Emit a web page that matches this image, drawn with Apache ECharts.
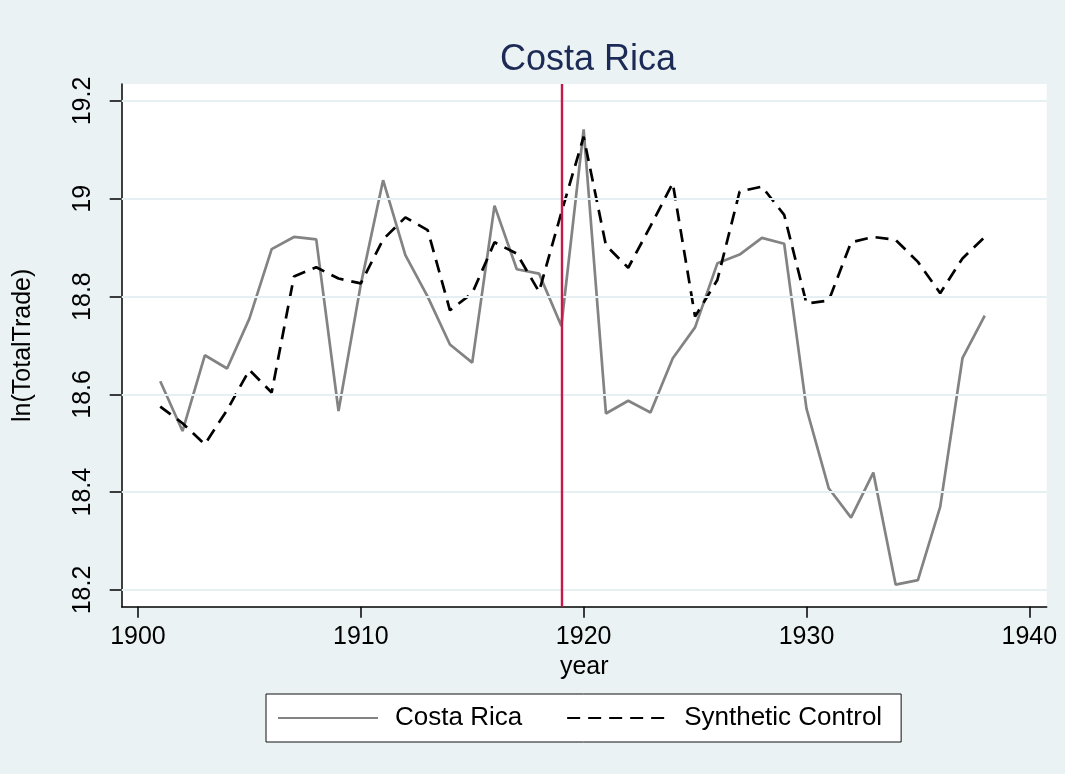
<!DOCTYPE html>
<html>
<head>
<meta charset="utf-8">
<script src="https://cdn.jsdelivr.net/npm/echarts@6/dist/echarts.min.js"></script>
<style>
html,body{margin:0;padding:0;background:#EAF2F3;}
#chart{width:1065px;height:774px;}
</style>
</head>
<body>
<div id="chart"></div>
<script>
const years = [1901,1902,1903,1904,1905,1906,1907,1908,1909,1910,1911,1912,1913,1914,1915,1916,1917,1918,1919,
  1920,1921,1922,1923,1924,1925,1926,1927,1928,1929,1930,1931,1932,1933,1934,1935,1936,1937,1938];
const costaRica = [18.627,18.525,18.680,18.653,18.755,18.897,18.922,18.917,18.566,18.825,19.038,18.885,18.800,18.702,18.665,18.986,18.856,18.847,18.740,
  19.142,18.561,18.587,18.563,18.674,18.737,18.868,18.886,18.920,18.908,18.571,18.408,18.348,18.440,18.211,18.220,18.370,18.674,18.761];
const synthetic = [18.575,18.541,18.498,18.568,18.650,18.604,18.841,18.860,18.837,18.827,18.917,18.962,18.936,18.772,18.807,18.911,18.888,18.810,18.972,
  19.127,18.905,18.859,18.944,19.032,18.759,18.834,19.015,19.025,18.967,18.786,18.792,18.911,18.922,18.916,18.871,18.807,18.878,18.922];
const xTicks = [1900,1910,1920,1930,1940];
const yTicks = [18.2,18.4,18.6,18.8,19.0,19.2];
const treatmentYear = 1919;

const chart = echarts.init(document.getElementById('chart'), null, {renderer:'canvas'});
const font = 'Liberation Sans, Arial, Helvetica, sans-serif';
const option = {
  backgroundColor: '#EAF2F3',
  animation: false,
  title: {
    text: 'Costa Rica',
    left: 583, top: 37, textAlign: 'center',
    textStyle: {fontFamily: font, fontSize: 36, fontWeight: 'normal', color: '#1C2A56'}
  },
  grid: {
    left: 121.7, right: 18.3, top: 84, bottom: 167.3,
    show: true, backgroundColor: '#ffffff', borderWidth: 0,
    outerBoundsMode: 'none'
  },
  legend: {
    left: 266, top: 694,
    orient: 'horizontal',
    backgroundColor: '#ffffff',
    borderColor: '#111111', borderWidth: 1, borderRadius: 0,
    padding: [11, 19, 11, 11],
    itemWidth: 100, itemHeight: 14, itemGap: 44,
    itemStyle: {opacity: 0},
    textStyle: {fontFamily: font, fontSize: 26, color: '#000', padding: [0,0,0,12]},
    data: ['Costa Rica', 'Synthetic Control']
  },
  xAxis: {
    type: 'value',
    min: 1899.27, max: 1940.78,
    name: 'year', nameLocation: 'middle', nameGap: 48,
    nameTextStyle: {fontFamily: font, fontSize: 25, color: '#000'},
    axisLine: {show: true, onZero: false, lineStyle: {color: '#000', width: 1.5}},
    axisTick: {show: true, length: 11, customValues: xTicks, lineStyle: {color: '#000', width: 1.5}},
    axisLabel: {customValues: xTicks, fontFamily: font, fontSize: 25, color: '#000', margin: 18,
      formatter: v => String(v)},
    splitLine: {show: false}
  },
  yAxis: {
    type: 'value',
    min: 18.1658, max: 19.2348,
    name: 'ln(TotalTrade)', nameLocation: 'middle', nameGap: 86, nameRotate: 90,
    nameTextStyle: {fontFamily: font, fontSize: 25, color: '#000'},
    axisLine: {show: true, onZero: false, lineStyle: {color: '#000', width: 1.5}},
    axisTick: {show: true, length: 12, customValues: yTicks, lineStyle: {color: '#000', width: 1.5}},
    axisLabel: {customValues: yTicks, rotate: 90, fontFamily: font, fontSize: 25, color: '#000', margin: 26,
      formatter: v => String(parseFloat(v.toFixed(1)))},
    splitLine: {show: false}
  },
  series: [
    {
      name: 'grid', type: 'line', data: [], z: 1, silent: true,
      markLine: {
        silent: true, symbol: ['none','none'], label: {show: false}, animation: false,
        lineStyle: {color: '#E6EFF1', width: 2, type: 'solid'},
        data: yTicks.map(v => ({yAxis: v}))
      }
    },
    {
      name: 'Costa Rica', type: 'line', z: 3,
      data: years.map((y, i) => [y, costaRica[i]]),
      symbol: 'none', showSymbol: false,
      lineStyle: {color: '#838383', width: 2.7, type: 'solid'},
      itemStyle: {color: '#838383'}
    },
    {
      name: 'Synthetic Control', type: 'line', z: 4,
      data: years.map((y, i) => [y, synthetic[i]]),
      symbol: 'none', showSymbol: false,
      lineStyle: {color: '#000000', width: 2.7, type: [13, 8]},
      itemStyle: {color: '#000000'}
    },
    {
      name: 'treat', type: 'line', data: [], z: 5, silent: true,
      markLine: {
        silent: true, symbol: ['none','none'], label: {show: false}, animation: false,
        lineStyle: {color: '#C8174B', width: 2.4, type: 'solid'},
        data: [{xAxis: treatmentYear}]
      }
    }
  ]
};
chart.setOption(option);
</script>
</body>
</html>
